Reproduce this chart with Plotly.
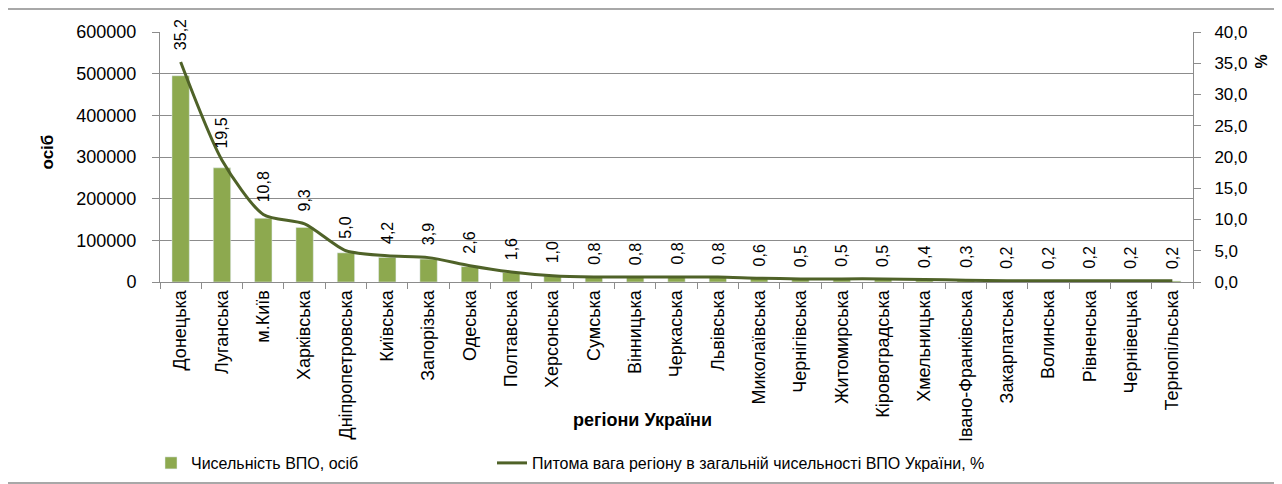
import plotly.graph_objects as go

regions = ["Донецька", "Луганська", "м.Київ", "Харківська", "Дніпропетровська",
           "Київська", "Запорізька", "Одеська", "Полтавська", "Херсонська",
           "Сумська", "Вінницька", "Черкаська", "Львівська", "Миколаївська",
           "Чернігівська", "Житомирська", "Кіровоградська", "Хмельницька",
           "Івано-Франківська", "Закарпатська", "Волинська", "Рівненська",
           "Чернівецька", "Тернопільська"]
vpo_count = [495000, 274000, 153000, 131000, 70000,
             59000, 55000, 37000, 23000, 14500,
             11500, 11500, 11500, 11000, 8500,
             7500, 7000, 7000, 6000,
             4000, 3200, 3000, 2800,
             2800, 2500]
share_pct = [35.2, 19.5, 10.8, 9.3, 5.0, 4.2, 3.9, 2.6, 1.6, 1.0,
             0.8, 0.8, 0.8, 0.8, 0.6, 0.5, 0.5, 0.5, 0.4, 0.3,
             0.2, 0.2, 0.2, 0.2, 0.2]
right_ticks = [0, 5, 10, 15, 20, 25, 30, 35, 40]
right_tick_labels = ["0,0", "5,0", "10,0", "15,0", "20,0", "25,0", "30,0", "35,0", "40,0"]

FONT = "Liberation Sans, Arial, sans-serif"
BAR_COLOR = "#8DA94F"
LINE_COLOR = "#4F6228"
AXIS_COLOR = "#8c8c8c"

fig = go.Figure()
fig.add_trace(go.Bar(x=regions, y=vpo_count, name="Чисельність ВПО, осіб",
                     marker_color=BAR_COLOR, yaxis="y", legend="legend"))
fig.add_trace(go.Scatter(x=regions, y=share_pct, yaxis="y2", mode="lines",
                         name="Питома вага регіону в загальній чисельності ВПО України, %",
                         line=dict(color=LINE_COLOR, width=3, shape="spline", smoothing=0.7),
                         legend="legend2"))

for r, p in zip(regions, share_pct):
    fig.add_annotation(x=r, y=p, xref="x", yref="y2", text=f"{p:.1f}".replace(".", ","),
                       textangle=-90, showarrow=False, yanchor="bottom", yshift=10,
                       font=dict(family=FONT, size=16, color="black"))

OFF = 8  # page body margin
L, R, T, B = 160 - OFF, 89, 32 - OFF, 202
W, H = 1282 - OFF, 484 - OFF
pw, ph = W - L - R, H - T - B


def px(x):
    return (x - OFF - L) / pw


def py(y):
    return (H - B - (y - OFF)) / ph


fig.add_annotation(x=px(35), y=py(152), xref="paper", yref="paper", text="<b>осіб</b>",
                   textangle=-90, showarrow=False, font=dict(family=FONT, size=17, color="black"))
fig.add_annotation(x=px(1251), y=py(53), xref="paper", yref="paper", text="<b>%</b>",
                   textangle=-90, showarrow=False, xanchor="left",
                   font=dict(family=FONT, size=16, color="black"))
fig.add_annotation(x=px(642), y=py(432), xref="paper", yref="paper", text="<b>регіони України</b>",
                   showarrow=False, font=dict(family=FONT, size=18, color="black"))

fig.add_shape(type="rect", xref="paper", yref="paper",
              x0=px(7), x1=px(1275), y0=py(483), y1=py(9),
              line=dict(color=AXIS_COLOR, width=1.5))

legend_common = dict(orientation="h", yanchor="middle", xanchor="left",
                     font=dict(family=FONT, size=16, color="black"),
                     bgcolor="rgba(0,0,0,0)", itemwidth=30)

fig.update_layout(
    width=W, height=H,
    margin=dict(l=L, r=R, t=T, b=B, autoexpand=False),
    paper_bgcolor="white", plot_bgcolor="white",
    font=dict(family=FONT, size=16, color="black"),
    bargap=0.58,
    showlegend=True,
    legend=dict(x=px(151), y=py(463), **legend_common),
    legend2=dict(x=px(492), y=py(463), **legend_common),
    xaxis=dict(tickangle=-90, showline=True, linecolor=AXIS_COLOR, linewidth=1,
               ticks="outside", tickson="boundaries", ticklen=6, tickcolor=AXIS_COLOR,
               tickfont=dict(family=FONT, size=18, color="black"), showgrid=False,
               automargin=False),
    yaxis=dict(range=[0, 600000], dtick=100000, showgrid=True, gridcolor=AXIS_COLOR,
               gridwidth=1, showline=True, linecolor=AXIS_COLOR, ticks="outside",
               ticklen=7, tickcolor=AXIS_COLOR, tickformat="d", automargin=False,
               ticklabelstandoff=12,
               tickfont=dict(family=FONT, size=18, color="black"), zeroline=False),
    yaxis2=dict(range=[0, 40], overlaying="y", side="right", tickvals=right_ticks,
                ticktext=right_tick_labels, showgrid=False, showline=True, automargin=False,
                linecolor=AXIS_COLOR, ticks="outside", ticklen=7, tickcolor=AXIS_COLOR,
                ticklabelstandoff=10,
                tickfont=dict(family=FONT, size=17, color="black"), zeroline=False),
)

fig.write_html("out.html")
